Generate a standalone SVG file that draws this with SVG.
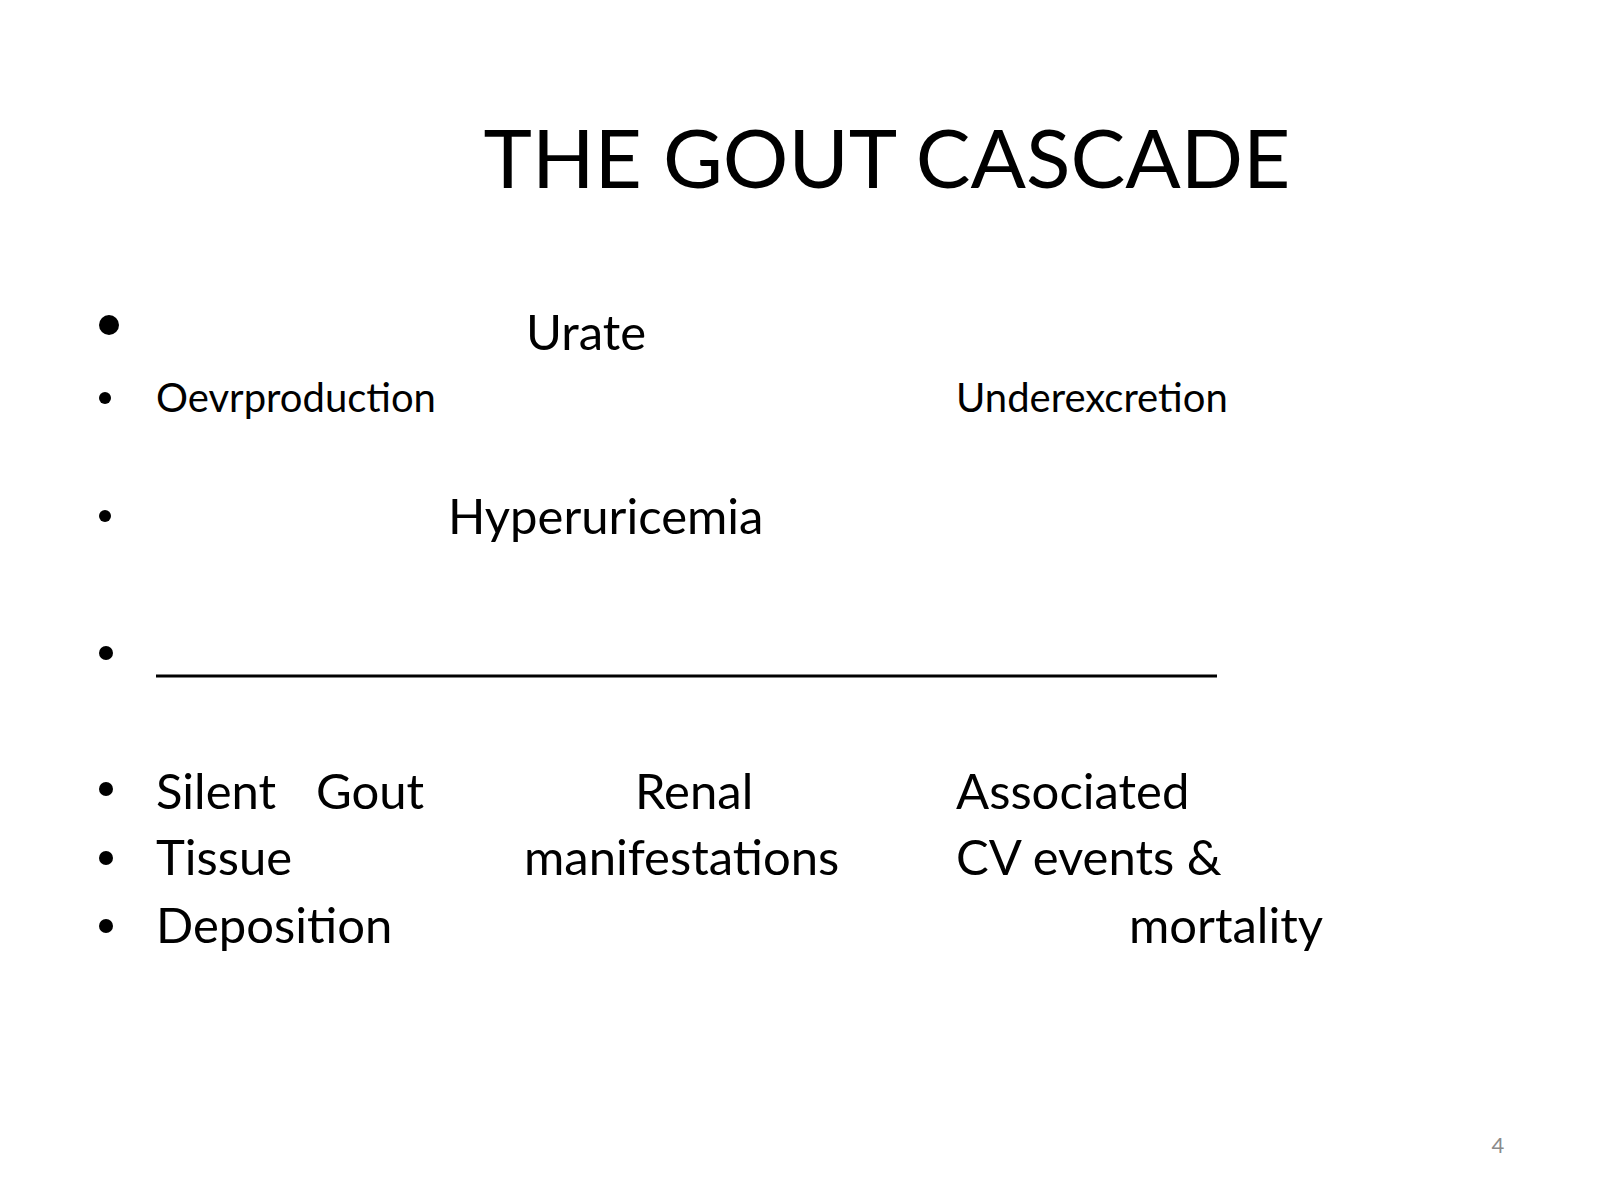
<svg xmlns="http://www.w3.org/2000/svg" width="1600" height="1200" viewBox="0 0 1600 1200">
<style>
text{font-family:Lato,"Open Sans","Liberation Sans",sans-serif;fill:#000}
.b{font-size:49px}.s{font-size:40px}
</style>
<rect width="1600" height="1200" fill="#fff"/>
<text x="887" y="188" font-size="82" text-anchor="middle">THE GOUT CASCADE</text>
<g id="bullets" fill="#000">
<circle cx="109" cy="325" r="10"/><circle cx="105" cy="398" r="6"/><circle cx="105" cy="516" r="6"/>
<circle cx="106" cy="653" r="7"/><circle cx="106" cy="789" r="7"/><circle cx="106" cy="858" r="7"/><circle cx="106" cy="926" r="7"/>
</g>
<g id="urate"><text class="b" x="526" y="350">Urate</text></g>
<g id="over"><text class="s" x="156" y="412">Oevrproduction</text></g>
<g id="under"><text class="s" x="956" y="412">Underexcretion</text></g>
<g id="hyper"><text class="b" x="448" y="534">Hyperuricemia</text></g>
<g id="connectors"><line x1="156" y1="676" x2="1217" y2="676" stroke="#000" stroke-width="3"/></g>
<g id="silent"><text class="b" x="156" y="809">Silent</text><text class="b" x="156" y="875">Tissue</text><text class="b" x="156" y="943">Deposition</text></g>
<g id="gout"><text class="b" x="316" y="809">Gout</text></g>
<g id="renal"><text class="b" x="635" y="809">Renal</text><text class="b" x="524" y="875">manifestations</text></g>
<g id="cv"><text class="b" x="956" y="809">Associated</text><text class="b" x="956" y="875">CV events &amp;</text><text class="b" x="1129" y="943">mortality</text></g>
<text x="1498" y="1153" font-size="22" style="fill:#8a8a8a" text-anchor="middle">4</text>
</svg>
